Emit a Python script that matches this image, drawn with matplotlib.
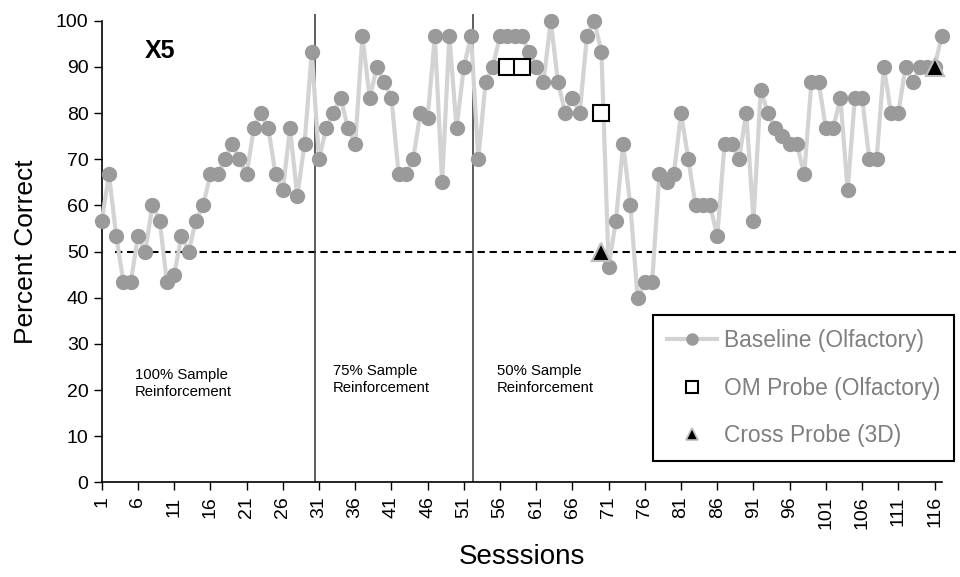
import matplotlib
matplotlib.use("Agg")
import matplotlib.pyplot as plt
from matplotlib.lines import Line2D
import numpy as np

plt.rcParams["font.family"] = ["Liberation Sans", "DejaVu Sans"]

# baseline (olfactory) percent correct, sessions 1..117
sessions = np.arange(1, 118)
baseline = [
    56.7, 66.7, 53.3, 43.3, 43.3, 53.3, 50, 60, 56.7, 43.3,
    45, 53.3, 50, 56.7, 60, 66.7, 66.7, 70, 73.3, 70,
    66.7, 76.7, 80, 76.7, 66.7, 63.3, 76.7, 62, 73.3, 93.3,
    70, 76.7, 80, 83.3, 76.7, 73.3, 96.7, 83.3, 90, 86.7,
    83.3, 66.7, 66.7, 70, 80, 79, 96.7, 65, 96.7, 76.7,
    90, 96.7, 70, 86.7, 90, 96.7, 96.7, 96.7, 96.7, 93.3,
    90, 86.7, 100, 86.7, 80, 83.3, 80, 96.7, 100, 93.3,
    46.7, 56.7, 73.3, 60, 40, 43.3, 43.3, 66.7, 65, 66.7,
    80, 70, 60, 60, 60, 53.3, 73.3, 73.3, 70, 80,
    56.7, 85, 80, 76.7, 75, 73.3, 73.3, 66.7, 86.7, 86.7,
    76.7, 76.7, 83.3, 63.3, 83.3, 83.3, 70, 70, 90, 80,
    80, 90, 86.7, 90, 90, 90, 96.7,
]

om_sessions = [57, 59, 70]
om_values = [90, 90, 80]

cross_sessions = [70, 116]
cross_values = [50, 90]

phase_breaks = [30.45, 52.3]
phase_labels = ["100% Sample\nReinforcement", "75% Sample\nReinforcement",
                "50% Sample\nReinforcement"]
phase_label_x = [5.6, 32.9, 55.6]
phase_label_y = [21.5, 22.3, 22.3]

xticks = list(range(1, 117, 5))

fig = plt.figure(figsize=(9.6, 5.77), dpi=100)
ax = fig.add_axes([0.106, 0.164, 0.875, 0.800])

ax.plot(sessions, baseline, color="#d3d3d3", lw=3, marker="o", ms=10,
        mfc="#9a9a9a", mec="#9a9a9a", clip_on=False, zorder=3)
ax.plot(om_sessions, om_values, ls="none", marker="s", ms=11,
        mfc="white", mec="black", mew=1.5, clip_on=False, zorder=4)
ax.plot(cross_sessions, cross_values, ls="none", marker="^", ms=13,
        mfc="black", mec="#bdbdbd", mew=1.5, clip_on=False, zorder=5)

# chance line and phase dividers
ax.hlines(50, 2.8, 119.0, colors="black", linestyles=(0, (3.5, 2.3)),
          lw=1.5, clip_on=False, zorder=2)
for xb in phase_breaks:
    ax.vlines(xb, 0, 101.5, colors="#333333", lw=1.1, clip_on=False, zorder=2)

for tx, ty, lab in zip(phase_label_x, phase_label_y, phase_labels):
    ax.text(tx, ty, lab, ha="left", va="center", fontsize=10.7,
            linespacing=1.25)

ax.text(9.05, 93.5, "X5", ha="center", va="center", fontsize=18,
        fontweight="bold")

ax.set_xlim(1, 117)
ax.set_ylim(0, 100)
ax.set_yticks(range(0, 101, 10))
ax.set_xticks(xticks)
ax.set_xticklabels([str(t) for t in xticks], rotation=90, fontsize=14)
ax.tick_params(axis="y", labelsize=14, length=6, width=1, direction="out")
ax.tick_params(axis="x", length=6, width=1, direction="out", pad=4)
for s in ["top", "right"]:
    ax.spines[s].set_visible(False)
for s in ["left", "bottom"]:
    ax.spines[s].set_linewidth(1.2)

ax.set_ylabel("Percent Correct", fontsize=19, labelpad=13)
ax.set_xlabel("Sesssions", fontsize=20, labelpad=11)

handles = [
    Line2D([], [], color="#d3d3d3", lw=3, marker="o", ms=8,
           mfc="#9a9a9a", mec="#9a9a9a"),
    Line2D([], [], ls="none", marker="s", ms=9, mfc="white", mec="black",
           mew=1.5),
    Line2D([], [], ls="none", marker="^", ms=8, mfc="black", mec="#bdbdbd",
           mew=1.2),
]
leg = ax.legend(handles, ["Baseline (Olfactory)", "OM Probe (Olfactory)",
                          "Cross Probe (3D)"],
                loc="upper left", bbox_to_anchor=(0.680, 0.454),
                bbox_transform=fig.transFigure, fontsize=16.4,
                handlelength=2.2, handletextpad=0.3, labelspacing=1.08,
                borderpad=0.62, borderaxespad=0, fancybox=False, framealpha=1)
leg.get_frame().set_edgecolor("black")
leg.get_frame().set_linewidth(1.5)
for t in leg.get_texts():
    t.set_color("#7f7f7f")

fig.savefig("out.png", dpi=100)
